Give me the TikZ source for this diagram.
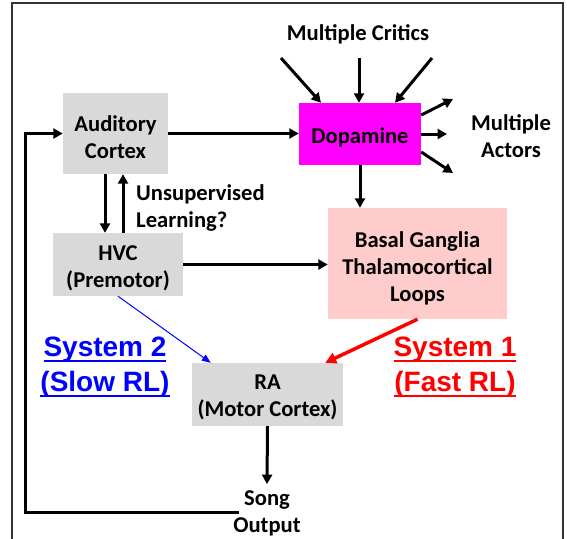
\documentclass[tikz,border=0pt]{standalone}
\usepackage{fontspec}
\setmainfont{Carlito}
\newfontfamily\arialfont{Liberation Sans}
\newsavebox\ulbox
\newcommand\myul[1]{\sbox\ulbox{#1}\rlap{\rule[-5pt]{\wd\ulbox}{1.8pt}}\usebox\ulbox}
\usetikzlibrary{arrows.meta}
\definecolor{boxgray}{HTML}{D9D9D9}
\definecolor{dopa}{HTML}{FF00FF}
\definecolor{bgpink}{HTML}{FFCCCC}
\definecolor{sysblue}{HTML}{0000FF}
\definecolor{sysred}{HTML}{FF0000}
\tikzset{
  lbl/.style={font=\fontsize{22.6}{27}\selectfont\bfseries, align=center, inner sep=0pt},
  blk/.style={draw=none, inner sep=0pt},
  arr/.style={line width=3pt, -{Triangle[length=9.5pt,width=10pt]}},
  bluearr/.style={line width=1pt, draw=sysblue, -{Triangle[length=9pt,width=7pt]}},
  redarr/.style={line width=3.5pt, draw=sysred, -{Triangle[length=11pt,width=11pt]}},
  sys/.style={font=\arialfont\fontsize{28}{35}\selectfont\bfseries, align=center, inner sep=0pt},
}
\begin{document}
\begin{tikzpicture}[x=1pt,y=-1pt]
\useasboundingbox (0,0) rectangle (567,538);
\draw[line width=1.5pt, color=black!80] (12,540) -- (12,3) -- (563,3) -- (563,540);

\node[blk, fill=boxgray, minimum width=105pt, minimum height=81pt] (aud) at (115.5,133.5) {};
\node[blk, fill=dopa, minimum width=122pt, minimum height=62pt] (dop) at (360,134) {};
\node[blk, fill=bgpink, minimum width=179pt, minimum height=111pt] (bg) at (417.5,263.5) {};
\node[blk, fill=boxgray, minimum width=130pt, minimum height=63pt] (hvc) at (118,264.5) {};
\node[blk, fill=boxgray, minimum width=151pt, minimum height=63pt] (ra) at (267.5,394.5) {};

\node[lbl] (audt) at ([yshift=-4pt]aud.center) {Auditory\\Cortex};
\node[lbl] (dopt) at ([yshift=-3.5pt]dop.center) {Dopamine};
\node[lbl] (bgt) at ([yshift=-4.5pt]bg.center) {Basal Ganglia\\Thalamocortical\\Loops};
\node[lbl] (hvct) at ([yshift=-4pt]hvc.center) {HVC\\(Premotor)};
\node[lbl] (rat) at ([yshift=-3pt]ra.center) {RA\\(Motor Cortex)};

\node[lbl] (critics) at (358,34) {Multiple Critics};
\node[lbl] (actors) at (511,136) {Multiple\\Actors};
\node[lbl, anchor=west, align=left] (unsup) at (136,208) {Unsupervised\\Learning?};
\node[lbl] (song) at (267,513) {Song\\Output};

\node[sys, text=sysblue] (sys2) at (105,367.5) {\myul{System 2}\\\myul{(Slow RL)}};
\node[sys, text=sysred] (sys1) at (455,367.5) {\myul{System 1}\\\myul{(Fast RL)}};

% critics
\coordinate (c1) at (281,58);
\coordinate (c2) at (359,58);
\coordinate (c3) at (432,58);
\draw[arr] (c1) -- ([xshift=-39pt]dop.north);
\draw[arr] (c2) -- (c2 |- dop.north);
\draw[arr] (c3) -- ([xshift=35pt]dop.north);

% actors
\coordinate (a1) at (453,99);
\coordinate (a2) at (447,134);
\coordinate (a3) at (453,173);
\draw[arr] ([yshift=19pt]dop.east) -- (a1);
\draw[arr] (dop.east) -- (a2);
\draw[arr] ([yshift=-18pt]dop.east) -- (a3);

% main flow
\draw[arr] (aud.east) -- (aud.east -| dop.west);
\draw[arr] (dop.south) -- (dop.south |- bg.north);
\draw[arr] ([xshift=-10.5pt]aud.south) -- ([xshift=-10.5pt]aud.south |- hvc.north);
\draw[arr] ([xshift=7.5pt]aud.south |- hvc.north) -- ([xshift=7.5pt]aud.south);
\draw[arr] (hvc.east) -- (hvc.east -| bg.west);
\draw[bluearr] (hvc.south) -- ([xshift=19pt]ra.north west);
\draw[redarr] (bg.south) -- ([xshift=-18pt]ra.north east);
\draw[arr] (ra.south) -- ([yshift=6pt]song.north);

% feedback loop
\coordinate (fb) at (239,512);
\draw[arr] (fb) -- (25,512) |- (aud.west);
\end{tikzpicture}
\end{document}
